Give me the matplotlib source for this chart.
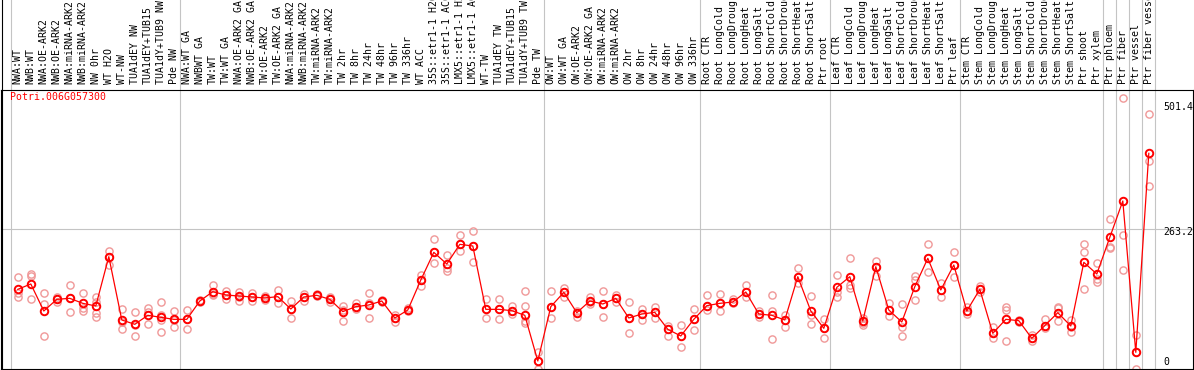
import numpy as np
import matplotlib
matplotlib.use('Agg')
import matplotlib.pyplot as plt
import matplotlib.transforms as mtransforms
from matplotlib.lines import Line2D

GENE = 'Potri.006G057300'

samples = [
    # group 1
    'NWA:WT', 'NWB:WT', 'NWA:OE-ARK2', 'NWB:OE-ARK2', 'NWA:miRNA-ARK2',
    'NWB:miRNA-ARK2', 'NW 0hr', 'WT H2O', 'WT-NW', 'TUA1dEY NW',
    'TUA1dEY+TUB15', 'TUA1dY+TUB9 NW', 'Pde NW',
    # group 2
    'NWA:WT GA', 'NWBWT GA', 'TW:WT', 'TW:WT GA', 'NWA:OE-ARK2 GA',
    'NWB:OE-ARK2 GA', 'TW:OE-ARK2', 'TW:OE-ARK2 GA', 'NWA:miRNA-ARK2',
    'NWB:miRNA-ARK2', 'TW:miRNA-ARK2', 'TW:miRNA-ARK2', 'TW 2hr', 'TW 8hr',
    'TW 24hr', 'TW 48hr', 'TW 96hr', 'TW 336hr', 'WT ACC',
    '35S::etr1-1 H2O', '35S::etr1-1 ACC', 'LMX5::etr1-1 H2O',
    'LMX5::etr1-1 ACC', 'WT-TW', 'TUA1dEY TW', 'TUA1dEY+TUB15',
    'TUA1dY+TUB9 TW', 'Pde TW',
    # group 3
    'OW:WT', 'OW:WT GA', 'OW:OE-ARK2', 'OW:OE-ARK2 GA', 'OW:miRNA-ARK2',
    'OW:miRNA-ARK2', 'OW 2hr', 'OW 8hr', 'OW 24hr', 'OW 48hr', 'OW 96hr',
    'OW 336hr',
    # root
    'Root CTR', 'Root LongCold', 'Root LongDrought', 'Root LongHeat',
    'Root LongSalt', 'Root ShortCold', 'Root ShortDrought', 'Root ShortHeat',
    'Root ShortSalt', 'Ptr root',
    # leaf
    'Leaf CTR', 'Leaf LongCold', 'Leaf LongDrought', 'Leaf LongHeat',
    'Leaf LongSalt', 'Leaf ShortCold', 'Leaf ShortDrought', 'Leaf ShortHeat',
    'Leaf ShortSalt', 'Ptr leaf',
    # stem
    'Stem CTR', 'Stem LongCold', 'Stem LongDrought', 'Stem LongHeat',
    'Stem LongSalt', 'Stem ShortCold', 'Stem ShortDrought', 'Stem ShortHeat',
    'Stem ShortSalt', 'Ptr shoot', 'Ptr xylem',
    # single tissues
    'Ptr phloem', 'Ptr fiber', 'Ptr vessel', 'Ptr fiber vessel',
]
group_sizes = [13, 28, 12, 10, 10, 11, 1, 1, 1, 1]

means = [
    141.7, 152.5, 98.1, 121.6, 123.6, 113.5, 108.2, 207.5, 80.0, 71.3,
    89.4, 85.4, 81.3,
    81.3, 118.2, 137.0, 130.3, 128.3, 126.3, 124.3, 127.0, 102.1, 126.3,
    129.7, 121.6, 96.8, 106.8, 110.2, 118.2, 84.0, 100.1, 160.5, 216.2,
    192.7, 232.3, 229.0, 101.4, 101.4, 98.8, 89.4, -2.6,
    106.8, 135.7, 94.7, 118.2, 112.2, 123.6, 84.0, 92.0, 95.4, 61.2,
    47.8, 81.3,
    108.8, 113.5, 116.2, 136.3, 92.0, 89.4, 80.0, 167.2, 98.1, 63.2,
    145.7, 167.2, 77.9, 187.4, 100.1, 75.9, 147.1, 204.2, 140.4, 190.7,
    98.1, 141.7, 53.1, 81.3, 78.6, 43.1, 68.6, 94.7, 67.9, 196.1, 172.6,
    246.4, 319.6, 14.9, 415.6,
]

reps = [
    [165.9, 135.0, 127.0], [172.6, 168.6, 121.6], [135.0, 112.2, 47.8],
    [127.0, 121.6, 116.2], [150.4, 123.6, 95.4], [133.7, 103.5, 98.8],
    [125.6, 116.9, 94.7, 86.7], [218.9, 207.5, 190.7], [102.1, 76.6, 61.2],
    [95.4, 69.9, 48.4], [103.5, 96.8, 71.3], [116.2, 90.0, 80.0, 55.1],
    [98.1, 80.6, 65.2],
    [100.1, 82.6, 61.2], [120.3, 118.2, 116.2], [150.4, 132.3, 129.7],
    [138.4, 130.3, 121.6], [136.3, 127.0, 118.9], [135.0, 125.6, 117.6],
    [128.3, 123.6, 120.3], [139.7, 127.0, 114.9], [118.2, 102.1, 83.3],
    [132.3, 125.6, 118.9], [131.7, 129.7, 128.3], [127.0, 121.6, 116.9],
    [108.2, 100.1, 77.3], [113.5, 105.5, 101.4], [133.7, 113.5, 83.3],
    [120.3, 118.2, 116.2], [90.0, 84.0, 75.3], [103.5, 100.1, 97.4],
    [170.6, 160.5, 148.4], [243.1, 216.2, 194.1], [210.9, 184.0, 179.3],
    [251.1, 232.3, 218.9], [259.2, 229.0, 196.1], [121.6, 101.4, 84.7],
    [121.6, 101.4, 81.3], [108.2, 98.8, 92.0], [138.4, 108.2, 78.6, 74.6],
    [16.2, -2.6, -19.4],
    [138.4, 106.8, 83.3], [145.1, 135.7, 127.0], [98.1, 94.7, 86.7],
    [125.6, 116.9, 111.5], [138.4, 112.2, 86.7], [130.3, 123.6, 116.9],
    [115.5, 84.0, 54.5], [102.1, 92.0, 80.0], [106.8, 95.4, 84.0],
    [67.9, 61.2, 48.4], [69.2, 47.8, 25.6], [102.1, 81.3, 59.8],
    [130.3, 108.8, 100.1], [132.3, 113.5, 97.4], [121.6, 116.2, 113.5],
    [150.4, 136.3, 125.6], [98.1, 92.0, 86.7], [130.3, 98.8, 41.7],
    [89.4, 80.0, 66.6], [184.0, 167.2, 153.8], [128.3, 90.0, 71.3],
    [81.3, 63.2, 43.1],
    [169.9, 137.0, 127.0], [204.2, 150.4, 145.1], [83.3, 73.3, 69.9],
    [199.4, 187.4, 169.2], [113.5, 100.1, 88.7], [111.5, 65.2, 48.4],
    [168.6, 160.5, 120.3], [232.3, 204.2, 177.3], [153.8, 140.4, 125.6],
    [216.2, 190.7, 165.9],
    [105.5, 98.1, 91.4], [148.4, 141.7, 137.0], [65.2, 53.1, 43.1],
    [105.5, 100.1, 38.4], [80.0, 77.9, 75.3], [49.8, 43.1, 38.4],
    [81.3, 68.6, 63.2], [106.8, 103.5, 77.9], [80.0, 66.6, 56.5],
    [233.0, 216.2, 141.7], [195.4, 161.9, 157.2],
    [282.7, 227.6, 224.3], [526.3, 251.1, 180.0], [49.8, 14.9, -19.4],
    [494.1, 400.8, 350.5],
]

scale_labels = ['501.4', '263.2', '0']
scale_values = [501.4, 263.2, 0]

W, H = 1194, 370
FONT = 'DejaVu Sans Mono'
FS = 7.1
GRID = '#c4c4c4'

fig = plt.figure(figsize=(W / 100, H / 100), dpi=100)
ax = fig.add_axes([1 / W, 1 / H, 1192 / W, 279 / H])

x = np.arange(len(samples))
rx = [i for i, r in enumerate(reps) for _ in r]
ry = [v for r in reps for v in r]

ax.plot(rx, ry, 'o', mfc='none', mec='#f09898', ms=5.2, mew=1.0, zorder=2)
ax.plot(x, means, '-', color='red', lw=0.9, zorder=3)
ax.plot(x, means, 'o', mfc='none', mec='red', ms=5.4, mew=1.4, zorder=4)

ax.set_xlim((1 - 17.8) / 13, (1193 - 17.8) / 13)
ax.set_ylim(-18.7, 543.1)
ax.set_xticks([])
ax.set_yticks([])
for s in ax.spines.values():
    s.set_color('black')
    s.set_linewidth(0.8)

# group separators run through the label header too
top_ext = H / 279
edges = np.cumsum([0] + group_sizes) - 0.5
for e in edges:
    ax.axvline(e, ymin=0, ymax=top_ext, color=GRID, lw=0.8,
               clip_on=False, zorder=0)
ax.axhline(scale_values[1], color=GRID, lw=0.8, zorder=0)

fig.add_artist(Line2D([1.5 / W, 1.5 / W], [0, 1], transform=fig.transFigure,
                      color='black', lw=0.8))

# sample labels
trans = mtransforms.blended_transform_factory(ax.transData, fig.transFigure)
for i, lab in enumerate(samples):
    ax.text(i, 1 - 84 / H, lab, rotation=90, ha='center', va='bottom',
            transform=trans, fontsize=FS, family=FONT, clip_on=False)

# scale labels on the right
rtrans = mtransforms.blended_transform_factory(fig.transFigure, ax.transData)
offsets = [3.4, -2.6, -2.6]
for lab, val, off in zip(scale_labels, scale_values, offsets):
    t = mtransforms.offset_copy(rtrans, fig=fig, y=off, units='dots')
    fig.text(1163.5 / W, val, lab, transform=t, ha='left', va='center',
             fontsize=FS, family=FONT, color='black')

fig.text(10 / W, 1 - 97 / H, GENE, color='red', ha='left', va='center',
         fontsize=FS, family=FONT)

fig.savefig('out.png', dpi=100)
